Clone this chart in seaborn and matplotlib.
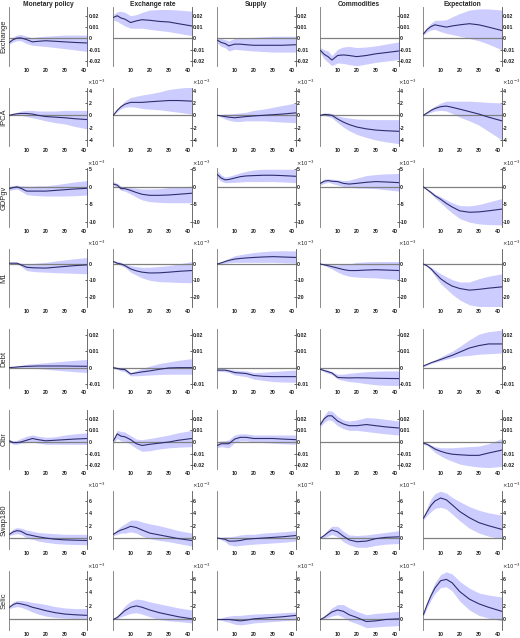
import numpy as np
import matplotlib
matplotlib.use("Agg")
import matplotlib.pyplot as plt
import seaborn as sns
from matplotlib.ticker import FixedLocator, FuncFormatter

# shocks (columns) and responding variables (rows)
shocks = ["Monetary policy", "Exchange rate", "Supply", "Commodities", "Expectation"]
variables = ["Exchange", "IPCA", "GDPgv", "M1", "Debt", "Cibr", "Swap180", "Selic"]
horizon = [1, 3, 5, 7, 10, 13, 16, 20, 25, 30, 35, 42]

# all responses below are in units of 1e-3
exchange_mid = [
    [-3.5, -1, 0.3, 0.5, -1, -3, -2.5, -2, -2.5, -3, -3.5, -4],
    [18.5, 20, 18, 17, 14, 15.5, 16.5, 16, 15, 14.5, 13, 11],
    [-1.5, -3.5, -4.5, -6.5, -5, -5, -5.5, -6, -6, -6, -6, -5.5],
    [-10.5, -14, -16, -19, -15, -14.5, -15, -16, -15, -13.5, -12.5, -11],
    [4, 8, 10.5, 12, 11, 10, 11, 12, 13, 12, 10, 7],
]
exchange_hi = [
    [-1.5, 1.5, 3, 3.5, 2, 0.5, 1.5, 2, 2.5, 3, 3, 3],
    [21, 23.5, 24, 23, 20, 21, 23, 25, 25.5, 25.5, 25, 24],
    [1, 0, -1, -2, 0, 0.5, 0.5, 1, 1.5, 2, 2, 2],
    [-8, -10, -11, -15, -9.5, -7.5, -7, -8, -7.5, -6.5, -5, -3],
    [5, 10, 13.5, 16, 16, 16.5, 19, 22, 25, 26, 26, 25],
]
exchange_lo = [
    [-5, -3, -2, -2, -4.5, -6, -6.5, -7, -8, -9, -10, -11.5],
    [16, 15, 13, 11, 9, 9, 9, 8, 7, 6, 4.5, 2.5],
    [-4, -7, -8, -11, -9.5, -10, -10.5, -11, -11.5, -12, -12, -12],
    [-13, -18, -21, -24, -21.5, -22, -23, -24, -22.5, -21, -20, -18.5],
    [3, 6, 7.5, 8, 6, 4.5, 3.5, 2, 0, -2, -5, -10],
]

ipca_mid = [
    [0, 0.15, 0.25, 0.3, 0.3, 0.2, 0, -0.2, -0.3, -0.4, -0.55, -0.7],
    [0, 0.8, 1.4, 1.8, 2.1, 2.1, 2.1, 2.2, 2.3, 2.4, 2.4, 2.3],
    [0, -0.1, -0.2, -0.3, -0.4, -0.3, -0.2, -0.1, 0, 0.1, 0.2, 0.4],
    [0, 0.15, 0.1, 0, -0.6, -1.1, -1.5, -1.9, -2.2, -2.4, -2.5, -2.6],
    [0, 0.4, 0.8, 1.1, 1.4, 1.5, 1.3, 1.0, 0.6, 0.2, -0.3, -0.9],
]
ipca_hi = [
    [0, 0.3, 0.5, 0.7, 0.8, 0.8, 0.7, 0.7, 0.7, 0.8, 0.8, 0.8],
    [0, 1.0, 1.7, 2.3, 2.9, 3.1, 3.3, 3.5, 3.8, 4.2, 4.4, 4.6],
    [0, 0.1, 0.2, 0.2, 0.3, 0.4, 0.5, 0.8, 1.0, 1.3, 1.6, 2.0],
    [0, 0.35, 0.4, 0.3, -0.1, -0.3, -0.45, -0.6, -0.65, -0.7, -0.7, -0.7],
    [0, 0.55, 1.1, 1.5, 2.0, 2.3, 2.3, 2.3, 2.3, 2.2, 2.1, 2.0],
]
ipca_lo = [
    [0, 0, 0, 0, -0.2, -0.4, -0.6, -0.9, -1.2, -1.4, -1.8, -2.2],
    [0, 0.6, 1.1, 1.3, 1.4, 1.3, 1.1, 1.0, 0.9, 0.7, 0.5, 0.2],
    [0, -0.3, -0.6, -0.8, -1.0, -1.0, -0.9, -0.9, -0.9, -1.0, -1.1, -1.2],
    [0, 0, -0.2, -0.4, -1.2, -1.9, -2.5, -3.1, -3.6, -4.0, -4.3, -4.6],
    [0, 0.25, 0.5, 0.7, 0.8, 0.7, 0.3, -0.3, -0.9, -1.6, -2.6, -4.0],
]

gdp_mid = [
    [-0.5, -0.2, 0, -0.4, -1.2, -1.2, -1.2, -1.2, -1.0, -0.8, -0.6, -0.4],
    [0.8, 0.5, -0.5, -0.5, -1.0, -1.6, -2.1, -2.4, -2.4, -2.3, -2.1, -1.8],
    [3.5, 2.5, 2.0, 2.1, 2.5, 2.9, 3.1, 3.2, 3.3, 3.3, 3.2, 3.0],
    [1.0, 1.6, 1.8, 1.6, 1.5, 1.0, 0.8, 1.0, 1.3, 1.5, 1.4, 1.2],
    [0, -0.8, -1.6, -2.5, -3.5, -4.7, -5.7, -6.8, -7.2, -7.1, -6.8, -6.3],
]
gdp_hi = [
    [0, 0.4, 0.5, 0.3, 0.2, 0.2, 0.3, 0.3, 0.6, 1.0, 1.4, 1.8],
    [1.5, 1.0, 0.2, 0, -0.2, -0.4, -0.6, -0.6, -0.5, -0.2, 0, 0.2],
    [4.5, 3.4, 2.8, 3.0, 3.5, 4.0, 4.4, 4.8, 5.0, 5.0, 5.0, 5.0],
    [1.5, 2.2, 2.3, 2.2, 2.0, 1.8, 1.9, 2.5, 3.2, 3.5, 3.7, 3.8],
    [0, -0.6, -1.2, -2.0, -2.8, -3.7, -4.5, -5.3, -5.4, -5.0, -4.3, -3.3],
]
gdp_lo = [
    [-1.0, -0.8, -0.6, -1.2, -2.2, -2.4, -2.5, -2.6, -2.6, -2.6, -2.5, -2.3],
    [0.3, 0, -1.0, -1.2, -2.0, -2.9, -3.7, -4.2, -4.4, -4.5, -4.5, -4.5],
    [2.5, 1.6, 1.2, 1.2, 1.3, 1.4, 1.5, 1.5, 1.5, 1.5, 1.4, 1.2],
    [0.5, 1.0, 1.3, 1.0, 0.5, 0.1, -0.1, -0.3, -0.4, -0.5, -0.8, -1.2],
    [0, -1.0, -2.0, -3.1, -4.5, -6.0, -7.4, -9.0, -10.0, -10.5, -10.7, -10.8],
]

m1_mid = [
    [0.5, 0.5, 0.5, -0.5, -2.0, -2.3, -2.4, -2.5, -2.0, -1.5, -1.0, -0.5],
    [1.5, 0.5, 0, -1.0, -3.0, -4.2, -5.0, -5.5, -5.4, -5.0, -4.5, -4.0],
    [0, 0.7, 1.5, 2.2, 3.0, 3.4, 3.7, 4.0, 4.3, 4.5, 4.3, 4.0],
    [0, -0.5, -1.0, -1.6, -2.5, -3.4, -4.0, -4.0, -3.7, -3.5, -3.7, -4.0],
    [0, -1.2, -3.0, -5.5, -9.0, -11.5, -13.5, -15.0, -16.0, -15.5, -14.8, -14.0],
]
m1_hi = [
    [1.0, 1.0, 1.0, 0.5, 0, 0.3, 0.6, 1.0, 1.8, 2.5, 3.2, 4.0],
    [2.0, 1.5, 1.0, 0, -1.0, -1.6, -2.0, -2.0, -1.5, -1.0, 0, 1.5],
    [0, 1.2, 2.5, 3.5, 5.0, 5.7, 6.3, 7.0, 7.6, 8.0, 8.1, 8.0],
    [0, -0.2, -0.5, -0.5, -0.5, -0.2, 0, 1.0, 1.3, 1.5, 1.5, 1.5],
    [0, -0.8, -2.0, -3.6, -6.0, -7.8, -9.6, -11.0, -11.0, -9.0, -7.5, -6.0],
]
m1_lo = [
    [0, 0, 0, -1.5, -4.0, -4.5, -4.8, -5.0, -5.3, -5.5, -5.7, -6.0],
    [1.0, 0, -1.0, -2.0, -5.0, -6.8, -8.5, -10.0, -10.8, -11.0, -11.3, -11.5],
    [0, 0.2, 0.5, 0.8, 1.0, 1.0, 1.0, 1.0, 1.0, 1.0, 0.8, 0.5],
    [0, -1.0, -2.0, -3.0, -5.0, -6.5, -7.5, -8.0, -8.3, -8.5, -9.0, -9.5],
    [0, -1.6, -4.0, -7.3, -12.0, -15.2, -18.5, -22.0, -25.0, -26.0, -26.0, -26.0],
]

debt_mid = [
    [0, 0.2, 0.4, 0.6, 0.8, 0.9, 1.0, 1.0, 1.0, 1.0, 0.9, 0.8],
    [0, -0.5, -1.0, -1.2, -3.8, -3.2, -2.6, -2.0, -1.0, -0.2, 0, 0],
    [-1.5, -1.5, -1.5, -2.0, -3.0, -3.3, -3.6, -4.8, -5.3, -5.5, -5.5, -5.5],
    [-1.0, -1.8, -2.5, -3.2, -6.0, -6.2, -6.3, -6.2, -6.3, -6.5, -6.6, -6.7],
    [1.0, 2.0, 3.0, 3.8, 5.0, 6.3, 7.5, 9.5, 12.0, 13.5, 14.5, 14.5],
]
debt_hi = [
    [0, 0.5, 1.0, 1.5, 2.0, 2.3, 2.6, 3.0, 3.5, 4.0, 4.5, 5.0],
    [0.5, 0.2, 0, -0.2, -3.0, -1.8, -0.5, 1.0, 2.5, 3.5, 4.5, 5.5],
    [-0.8, -0.8, -0.8, -1.0, -1.5, -1.8, -2.0, -3.0, -2.8, -2.3, -2.0, -1.5],
    [-0.5, -1.0, -1.5, -2.5, -4.0, -4.0, -3.5, -3.0, -2.5, -2.2, -2.0, -2.0],
    [1.5, 2.5, 3.5, 4.8, 6.5, 8.3, 10.0, 13.0, 17.0, 20.5, 22.0, 23.0],
]
debt_lo = [
    [0, -0.1, -0.1, -0.1, -0.2, -0.4, -0.6, -1.0, -1.5, -2.0, -2.5, -3.0],
    [-0.5, -1.2, -2.0, -2.5, -5.0, -5.0, -4.8, -4.5, -4.2, -4.0, -4.0, -4.0],
    [-2.2, -2.3, -2.5, -3.0, -4.5, -5.0, -5.5, -7.0, -7.8, -8.5, -8.8, -9.0],
    [-1.5, -2.5, -3.5, -4.3, -7.0, -7.8, -8.5, -9.0, -9.8, -10.5, -10.8, -11.0],
    [0.5, 1.5, 2.5, 3.2, 4.3, 5.2, 6.0, 7.0, 7.5, 8.2, 8.5, 9.0],
]

cibr_mid = [
    [1.0, -0.5, -0.5, 0, 1.5, 3.0, 2.0, 1.0, 1.5, 2.0, 2.5, 3.0],
    [1.0, 7.0, 5.0, 4.5, 2.0, -1.5, -3.0, -2.0, -1.0, 0, 1.5, 3.0],
    [-3.0, -1.5, -1.5, -1.5, 2.5, 4.0, 4.0, 3.0, 3.0, 3.0, 2.5, 2.0],
    [15.0, 20.0, 22.5, 22.5, 18.0, 15.5, 14.0, 14.0, 15.0, 14.0, 13.0, 12.0],
    [-1.0, -2.0, -4.0, -6.0, -8.0, -9.5, -10.5, -11.0, -11.5, -11.5, -9.5, -7.0],
]
cibr_hi = [
    [2.0, 1.0, 1.5, 3.0, 5.0, 6.0, 5.0, 4.0, 4.5, 6.0, 7.0, 8.0],
    [3.0, 10.0, 9.0, 8.5, 5.5, 2.5, 2.0, 3.0, 4.5, 6.0, 8.0, 10.0],
    [0, 1.0, 1.0, 2.0, 6.0, 7.0, 7.0, 6.0, 6.0, 6.0, 6.0, 6.0],
    [17.0, 23.0, 27.0, 26.5, 22.0, 19.0, 18.0, 19.0, 21.0, 20.5, 19.5, 18.0],
    [0, -1.0, -2.5, -4.0, -5.0, -5.0, -5.0, -4.5, -4.0, -3.5, -1.5, 3.0],
]
cibr_lo = [
    [0, -2.0, -2.0, -1.0, -0.5, 0, -1.0, -2.0, -2.0, -2.0, -2.0, -2.0],
    [-1.0, 3.0, 1.0, 0.5, -2.0, -5.5, -8.0, -7.5, -6.0, -5.0, -4.5, -4.0],
    [-5.0, -4.0, -4.5, -5.0, -0.5, 1.0, 1.0, 0, -0.5, -1.0, -1.5, -2.0],
    [13.0, 17.0, 19.0, 18.5, 14.0, 11.5, 10.0, 10.0, 9.0, 8.0, 7.0, 6.0],
    [-2.0, -3.0, -6.0, -9.0, -12.0, -14.5, -16.5, -19.0, -20.5, -21.5, -22.0, -21.0],
]

swap_mid = [
    [0.6, 1.0, 1.2, 1.1, 0.6, 0.4, 0.2, 0, -0.2, -0.3, -0.35, -0.4],
    [0.6, 1.0, 1.3, 1.5, 1.9, 1.7, 1.3, 0.8, 0.5, 0.2, -0.1, -0.4],
    [0, -0.1, -0.2, -0.5, -0.5, -0.4, -0.2, -0.1, 0, 0.1, 0.2, 0.4],
    [0, 0.4, 0.9, 1.3, 1.0, 0.3, -0.3, -0.6, -0.5, -0.1, 0.1, 0.2],
    [3.2, 4.3, 5.3, 6.0, 6.5, 6.2, 5.4, 4.3, 3.3, 2.5, 2.0, 1.4],
]
swap_hi = [
    [0.8, 1.5, 1.7, 1.6, 1.3, 1.1, 0.9, 0.8, 0.7, 0.6, 0.6, 0.6],
    [0.8, 1.4, 1.9, 2.3, 2.9, 2.9, 2.6, 2.3, 2.0, 1.6, 1.2, 0.8],
    [0, 0.1, 0.2, 0.2, 0.3, 0.5, 0.6, 0.6, 0.8, 0.9, 1.0, 1.2],
    [0, 0.7, 1.4, 1.9, 1.9, 1.1, 0.5, 0.4, 0.5, 0.7, 0.9, 1.2],
    [3.4, 5.0, 6.4, 7.2, 7.6, 7.3, 6.6, 5.9, 5.1, 4.5, 4.1, 3.7],
]
swap_lo = [
    [0.4, 0.6, 0.7, 0.6, 0, -0.2, -0.5, -0.7, -0.9, -1.0, -1.05, -1.1],
    [0.4, 0.6, 0.8, 0.8, 1.0, 0.8, 0.3, -0.1, -0.4, -0.6, -0.9, -1.3],
    [0, -0.3, -0.6, -1.1, -1.3, -1.2, -1.1, -1.0, -0.9, -0.8, -0.7, -0.5],
    [0, 0.1, 0.3, 0.6, 0.2, -0.6, -1.1, -1.5, -1.5, -1.2, -1.0, -0.9],
    [3.0, 3.7, 4.3, 4.8, 5.0, 4.7, 3.9, 2.8, 1.6, 0.8, 0.3, -0.1],
]

selic_mid = [
    [1.8, 2.2, 2.4, 2.3, 2.1, 1.8, 1.6, 1.3, 1.0, 0.8, 0.7, 0.6],
    [0, 0.3, 0.8, 1.3, 1.8, 2.0, 1.8, 1.4, 1.0, 0.7, 0.4, 0.1],
    [0, 0, 0, 0, -0.1, -0.2, -0.1, 0.1, 0.2, 0.3, 0.4, 0.6],
    [0, 0.3, 0.7, 1.1, 1.4, 1.2, 0.7, 0.3, -0.3, -0.2, 0, 0.1],
    [0.7, 2.2, 3.5, 4.6, 5.7, 5.9, 5.4, 4.1, 3.0, 2.3, 1.8, 1.2],
]
selic_hi = [
    [2.0, 2.6, 2.8, 2.8, 2.7, 2.5, 2.4, 2.2, 1.9, 1.7, 1.6, 1.6],
    [0, 0.5, 1.2, 2.0, 2.7, 3.0, 2.9, 2.6, 2.3, 2.0, 1.7, 1.4],
    [0, 0.2, 0.4, 0.5, 0.6, 0.6, 0.7, 0.8, 0.85, 0.9, 1.0, 1.1],
    [0, 0.5, 1.1, 1.7, 2.2, 2.2, 1.7, 1.2, 0.7, 0.9, 1.0, 1.2],
    [0.9, 2.6, 4.1, 5.4, 6.6, 7.0, 6.7, 5.6, 4.6, 3.9, 3.6, 3.3],
]
selic_lo = [
    [1.6, 1.8, 1.9, 1.8, 1.5, 1.1, 0.8, 0.5, 0.3, 0.2, 0.15, 0.1],
    [0, 0.1, 0.4, 0.6, 0.9, 1.0, 0.8, 0.4, 0, -0.2, -0.3, -0.5],
    [0, -0.1, -0.3, -0.4, -0.7, -0.8, -0.7, -0.5, -0.4, -0.3, -0.2, -0.1],
    [0, 0.1, 0.3, 0.5, 0.7, 0.3, -0.2, -0.6, -1.2, -1.1, -1.0, -0.9],
    [0.5, 1.8, 2.9, 3.8, 4.7, 4.8, 4.2, 2.7, 1.4, 0.6, 0.2, -0.2],
]

mids = [exchange_mid, ipca_mid, gdp_mid, m1_mid, debt_mid, cibr_mid, swap_mid, selic_mid]
his = [exchange_hi, ipca_hi, gdp_hi, m1_hi, debt_hi, cibr_hi, swap_hi, selic_hi]
los = [exchange_lo, ipca_lo, gdp_lo, m1_lo, debt_lo, cibr_lo, swap_lo, selic_lo]

# y ticks per row (units of 1e-3) and whether the row shows a x10^-3 factor
row_ticks = [[-20, -10, 0, 10, 20], [-4, -2, 0, 2, 4], [-10, -5, 0, 5], [-20, -10, 0],
             [-10, 0, 10, 20], [-20, -10, 0, 10, 20], [0, 2, 4, 6], [0, 2, 4, 6]]
row_ylim = [(-23.8, 27.7), (-5.0, 4.5), (-11.3, 5.3), (-26.5, 9.3),
            (-12.4, 23.4), (-22.8, 27.5), (-1.8, 7.7), (-1.5, 7.1)]
row_sci = [False, True, True, True, False, False, True, True]

sns.set_theme(style="white")
plt.rcParams["font.family"] = ["Liberation Sans", "DejaVu Sans"]

W, H = 520, 638
fig = plt.figure(figsize=(W / 100, H / 100), dpi=100)

col_left = [9, 113, 217, 320, 423]
pw, ph = 78.5, 58.5
band_col = "#ccccff"
line_col = "#2e2e6e"
tick_fs = 3.8

for i, var in enumerate(variables):
    top = 7 + 80.6 * i
    for j, shock in enumerate(shocks):
        ax = fig.add_axes([col_left[j] / W, 1 - (top + ph) / H, pw / W, ph / H])
        ax.set_facecolor("white")
        ax.fill_between(horizon, los[i][j], his[i][j], color=band_col, lw=0, zorder=1)
        ax.axhline(0, color="#808080", lw=0.9, zorder=2)
        sns.lineplot(x=horizon, y=mids[i][j], ax=ax, color=line_col, lw=0.8, zorder=3)
        ax.set_xlim(0.8, 41.8)
        ax.set_ylim(*row_ylim[i])

        ax.yaxis.tick_right()
        ax.yaxis.set_major_locator(FixedLocator(row_ticks[i]))
        if row_sci[i]:
            ax.yaxis.set_major_formatter(FuncFormatter(lambda v, p: f"{v:g}"))
            ax.text(1.0, 1.01, r"$\times10^{-3}$", transform=ax.transAxes,
                    ha="left", va="bottom", fontsize=3.8)
        else:
            ax.yaxis.set_major_formatter(FuncFormatter(lambda v, p: f"{v / 1000:g}"))
        ax.set_xticks([10, 20, 30, 40])
        ax.tick_params(axis="y", direction="in", length=1.5, width=0.5, pad=1,
                       labelsize=tick_fs, colors="#222222")
        ax.tick_params(axis="x", length=0, pad=1.5, labelsize=tick_fs, colors="#222222")
        for lab in ax.get_xticklabels() + ax.get_yticklabels():
            lab.set_fontweight("bold")

        for side in ["top", "bottom"]:
            ax.spines[side].set_visible(False)
        ax.spines["left"].set_color("#777777")
        ax.spines["right"].set_color("#555555")
        ax.spines["left"].set_linewidth(0.6)
        ax.spines["right"].set_linewidth(0.6)
        ax.grid(False)

        if i == 0:
            fig.text((col_left[j] + pw / 2) / W, 1 - 4 / H, shock, ha="center", va="center",
                     fontsize=4.8, fontweight="bold")
    fig.text(4 / W, 1 - (top + ph / 2) / H, var, rotation=90, ha="center", va="center",
             fontsize=5.4)

fig.savefig("out.png", dpi=100)
